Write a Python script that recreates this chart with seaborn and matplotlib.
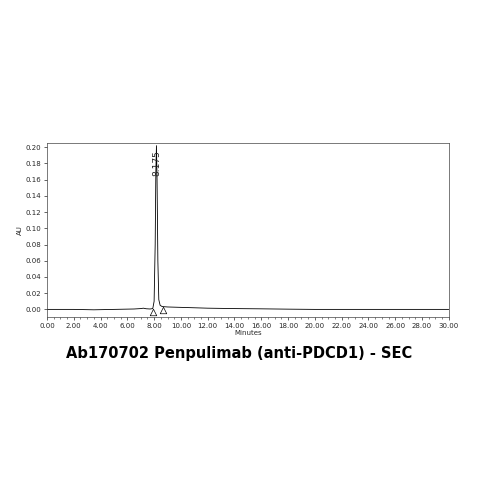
import matplotlib
matplotlib.use("Agg")
import matplotlib.pyplot as plt
import seaborn as sns
import pandas as pd

minutes = [0.0, 2.0, 3.5, 5.0, 6.5, 7.0, 7.2, 7.4, 7.7, 7.9, 8.0, 8.08, 8.13, 8.175, 8.22, 8.28, 8.35, 8.45, 8.6, 9.0, 10.0, 12.0, 14.0, 16.0, 18.0, 20.0, 24.0, 30.0]
au = [0.0, 0.0, -0.0005, 0.0, 0.0005, 0.001, 0.0015, 0.0008, 0.0005, 0.001, 0.01, 0.08, 0.17, 0.202, 0.16, 0.06, 0.012, 0.005, 0.0035, 0.003, 0.0025, 0.0015, 0.001, 0.0007, 0.0003, 0.0, 0.0, 0.0]
peak_rt = 8.175
peak_label = "8.175"
marker_x = [7.95, 8.7]
marker_y = [-0.0035, -0.0005]
xticks = [i * 2.0 for i in range(16)]
yticks = [i * 0.02 for i in range(11)]

sns.set_style("white")
fig = plt.figure(figsize=(4.79, 4.79), dpi=100)
ax = fig.add_axes([0.098, 0.338, 0.839, 0.363])
df = pd.DataFrame({"Minutes": minutes, "AU": au})
sns.lineplot(data=df, x="Minutes", y="AU", ax=ax, color="black", linewidth=0.6)
ax.scatter(marker_x, marker_y, marker="^", s=22, facecolors="white", edgecolors="black", linewidths=0.5, zorder=3)
ax.text(peak_rt + 0.05, 0.197, peak_label, rotation=90, ha="center", va="top", fontsize=6.5, color="#222222")
ax.set_xlim(0, 30)
ax.set_ylim(-0.0095, 0.205)
ax.set_xticks(xticks)
ax.set_xticklabels([f"{v:.2f}" for v in xticks], fontsize=5)
ax.set_yticks(yticks)
ax.set_yticklabels([f"{v:.2f}" for v in yticks], fontsize=5)
ax.set_xticks([i * 0.5 for i in range(61)], minor=True)
ax.tick_params(axis="both", which="major", direction="out", length=2.5, width=0.5, pad=1.5, left=True, bottom=True)
ax.tick_params(axis="x", which="minor", direction="out", length=1.5, width=0.4, bottom=True)
ax.set_xlabel("Minutes", fontsize=5, labelpad=1)
ax.set_ylabel("AU", fontsize=5, labelpad=2)
for s in ax.spines.values():
    s.set_linewidth(0.5)
    s.set_color("#444444")
fig.text(0.5, 0.253, "Ab170702 Penpulimab (anti-PDCD1) - SEC", ha="center", fontsize=10.5, fontweight="bold", color="black")
fig.savefig("out.png", dpi=100)
